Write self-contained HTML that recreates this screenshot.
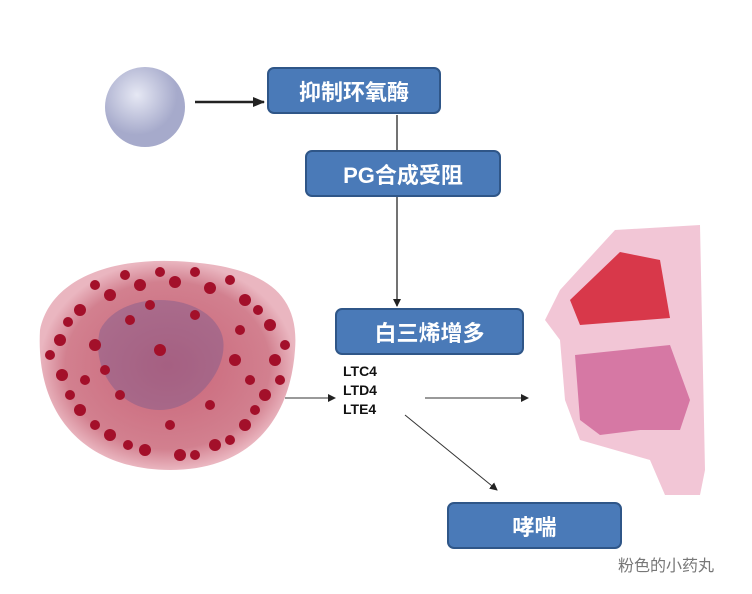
<!DOCTYPE html><html><head><meta charset="utf-8"><style>
body{margin:0;width:752px;height:594px;background:#fff;position:relative;overflow:hidden;font-family:"Liberation Sans","Noto Sans CJK SC",sans-serif}
.b{position:absolute;background:#4a7ab8;border:2px solid #2f5688;border-radius:7px;color:#fff;font-size:22px;font-weight:bold;display:flex;align-items:center;justify-content:center;box-sizing:border-box}
.lt{position:absolute;left:343px;top:362px;font-weight:bold;font-size:14px;line-height:19px;color:#111}
</style></head><body>
<svg width="752" height="594" style="position:absolute;left:0;top:0">
<defs><radialGradient id="p" cx="0.4" cy="0.35"><stop offset="0" stop-color="#e6e8f4"/><stop offset="1" stop-color="#a6aacb"/></radialGradient>
<radialGradient id="c" cx="0.5" cy="0.5"><stop offset="0" stop-color="#c96478"/><stop offset="0.8" stop-color="#d2808f"/><stop offset="1" stop-color="#eab6c0"/></radialGradient>
<marker id="a" markerWidth="8" markerHeight="8" refX="7" refY="4" orient="auto" markerUnits="userSpaceOnUse"><path d="M0,0L8,4L0,8z" fill="#222"/></marker>
<marker id="b" markerWidth="12" markerHeight="12" refX="11" refY="6" orient="auto" markerUnits="userSpaceOnUse"><path d="M0,1L12,6L0,11z" fill="#222"/></marker></defs>
<circle cx="145" cy="107" r="40" fill="url(#p)"/>
<line x1="195" y1="102" x2="264" y2="102" stroke="#222" stroke-width="2.5" marker-end="url(#b)"/>
<line x1="397" y1="115" x2="397" y2="150" stroke="#444" stroke-width="1.5"/>
<line x1="397" y1="197" x2="397" y2="306" stroke="#444" stroke-width="1.5" marker-end="url(#a)"/>
<path d="M40,330C50,280 110,255 190,262C260,268 300,290 295,350C290,420 250,470 170,470C90,470 35,420 40,330Z" fill="url(#c)"/>
<path d="M100,330C120,290 200,290 220,330C235,360 200,410 160,410C120,410 90,370 100,330Z" fill="#7a5a8e" opacity="0.45"/>
<g fill="#a3102a">
<circle cx="80" cy="310" r="6"/><circle cx="110" cy="295" r="6"/><circle cx="140" cy="285" r="6"/><circle cx="175" cy="282" r="6"/><circle cx="210" cy="288" r="6"/><circle cx="245" cy="300" r="6"/><circle cx="270" cy="325" r="6"/><circle cx="275" cy="360" r="6"/><circle cx="265" cy="395" r="6"/><circle cx="245" cy="425" r="6"/><circle cx="215" cy="445" r="6"/><circle cx="180" cy="455" r="6"/><circle cx="145" cy="450" r="6"/><circle cx="110" cy="435" r="6"/><circle cx="80" cy="410" r="6"/><circle cx="62" cy="375" r="6"/><circle cx="60" cy="340" r="6"/><circle cx="95" cy="345" r="6"/><circle cx="160" cy="350" r="6"/><circle cx="235" cy="360" r="6"/><circle cx="130" cy="320" r="5"/><circle cx="195" cy="315" r="5"/><circle cx="120" cy="395" r="5"/><circle cx="210" cy="405" r="5"/><circle cx="170" cy="425" r="5"/><circle cx="240" cy="330" r="5"/><circle cx="85" cy="380" r="5"/>
<circle cx="95" cy="285" r="5"/><circle cx="125" cy="275" r="5"/><circle cx="160" cy="272" r="5"/><circle cx="195" cy="272" r="5"/><circle cx="230" cy="280" r="5"/><circle cx="258" cy="310" r="5"/><circle cx="285" cy="345" r="5"/><circle cx="280" cy="380" r="5"/><circle cx="255" cy="410" r="5"/><circle cx="230" cy="440" r="5"/><circle cx="195" cy="455" r="5"/><circle cx="128" cy="445" r="5"/><circle cx="95" cy="425" r="5"/><circle cx="70" cy="395" r="5"/><circle cx="50" cy="355" r="5"/><circle cx="68" cy="322" r="5"/><circle cx="150" cy="305" r="5"/><circle cx="250" cy="380" r="5"/><circle cx="105" cy="370" r="5"/></g>
<line x1="285" y1="398" x2="335" y2="398" stroke="#333" stroke-width="1" marker-end="url(#a)"/>
<line x1="425" y1="398" x2="528" y2="398" stroke="#333" stroke-width="1" marker-end="url(#a)"/>
<line x1="405" y1="415" x2="497" y2="490" stroke="#333" stroke-width="1" marker-end="url(#a)"/>
<path d="M615,230L700,225L705,470L700,495L665,495L650,460L580,440L565,400L560,340L545,320L560,290Z" fill="#f2c6d6"/>
<path d="M570,300L620,252L660,260L670,318L580,325Z" fill="#d8384a"/>
<path d="M575,355L670,345L690,400L680,430L640,430L600,435L580,420Z" fill="#d678a4"/>
</svg>
<div class="b" style="left:267px;top:67px;width:174px;height:47px">抑制环氧酶</div>
<div class="b" style="left:305px;top:150px;width:196px;height:47px">PG合成受阻</div>
<div class="b" style="left:335px;top:308px;width:189px;height:47px">白三烯增多</div>
<div class="b" style="left:447px;top:502px;width:175px;height:47px">哮喘</div>
<div class="lt">LTC4<br>LTD4<br>LTE4</div>
<div style="position:absolute;left:618px;top:552px;font-size:16px;color:#777">粉色的小药丸</div>
</body></html>
